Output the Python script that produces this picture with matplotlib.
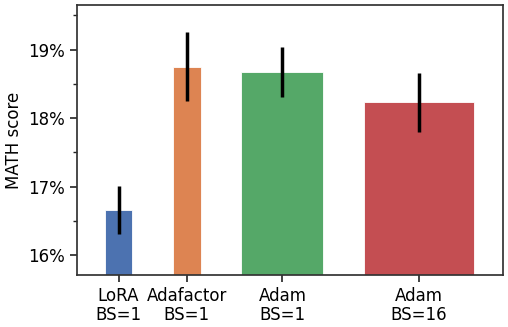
import numpy as np
import matplotlib

matplotlib.use("Agg")
import matplotlib.pyplot as plt
from matplotlib.ticker import FuncFormatter, MultipleLocator

# Datos (MATH score en %)
labels = ["LoRA\nBS=1", "Adafactor\nBS=1", "Adam\nBS=1", "Adam\nBS=16"]
scores = [16.66, 18.75, 18.67, 18.23]
errors = [0.35, 0.50, 0.36, 0.43]
widths = [1, 1, 3, 4]
colors = ["#4C72B0", "#DD8452", "#55A868", "#C44E52"]

GAP = 1.5

# posiciones: barras contiguas separadas por un hueco fijo
centers = []
left = -widths[0] / 2
for w in widths:
    centers.append(left + w / 2)
    left += w + GAP

fig = plt.figure(figsize=(5.08, 3.27), dpi=100)
ax = fig.add_axes([77 / 508, 1 - 275 / 327, 426 / 508, 270 / 327])

ax.bar(centers, scores, width=widths, color=colors, edgecolor="white",
       linewidth=0.6)
ax.errorbar(centers, scores, yerr=errors, fmt="none", ecolor="black",
            elinewidth=2.5, capsize=0)

ax.set_ylim(15.71, 19.65)
ax.set_xlim(-1.52, 14.07)
ax.yaxis.set_major_locator(MultipleLocator(1))
ax.yaxis.set_minor_locator(MultipleLocator(0.5))
ax.yaxis.set_major_formatter(FuncFormatter(lambda v, _: f"{v:.0f}%"))
ax.set_xticks(centers)
ax.set_xticklabels(labels, linespacing=1.05)
ax.set_ylabel("MATH score", fontsize=12)

ax.tick_params(axis="both", labelsize=12, length=5, width=1.2, color="#222222")
ax.tick_params(axis="y", which="minor", length=3, width=1.0, color="#222222")
for s in ax.spines.values():
    s.set_color("#333333")
    s.set_linewidth(1.25)

fig.savefig("out.png", dpi=100)
